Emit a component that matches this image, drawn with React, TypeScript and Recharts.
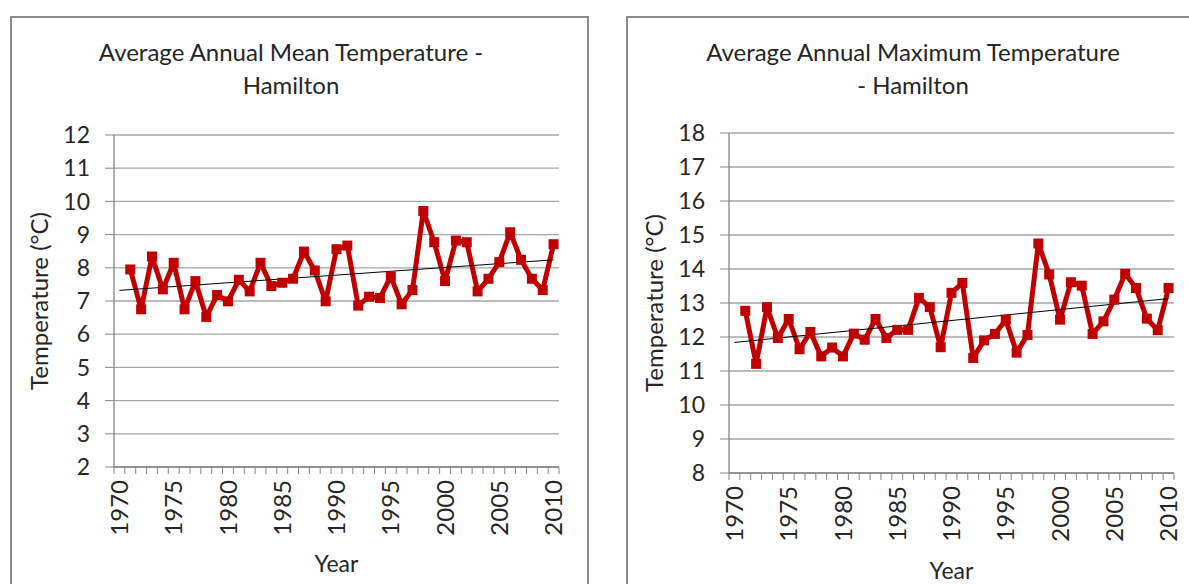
import React from 'react';
import { LineChart, Line, XAxis, YAxis, CartesianGrid, ReferenceLine, Label } from 'recharts';

const years = [
  1970, 1971, 1972, 1973, 1974, 1975, 1976, 1977, 1978, 1979,
  1980, 1981, 1982, 1983, 1984, 1985, 1986, 1987, 1988, 1989,
  1990, 1991, 1992, 1993, 1994, 1995, 1996, 1997, 1998, 1999,
  2000, 2001, 2002, 2003, 2004, 2005, 2006, 2007, 2008, 2009, 2010,
];

// 1970 has no reading
const meanTemp = [
  null,
  7.95, 6.75, 8.34, 7.35, 8.15, 6.75, 7.6, 6.52, 7.18, 6.99,
  7.64, 7.29, 8.15, 7.45, 7.55, 7.67, 8.49, 7.92, 6.99, 8.56,
  8.67, 6.86, 7.13, 7.09, 7.74, 6.9, 7.33, 9.71, 8.77, 7.6,
  8.82, 8.77, 7.29, 7.67, 8.17, 9.07, 8.24, 7.67, 7.33, 8.71,
];

const maxTemp = [
  null,
  12.77, 11.21, 12.88, 11.97, 12.53, 11.64, 12.15, 11.43, 11.69, 11.43,
  12.1, 11.92, 12.53, 11.97, 12.21, 12.21, 13.15, 12.88, 11.7, 13.3,
  13.59, 11.38, 11.9, 12.09, 12.51, 11.54, 12.06, 14.75, 13.84, 12.51,
  13.61, 13.51, 12.09, 12.46, 13.1, 13.86, 13.44, 12.54, 12.2, 13.44,
];

const meanTicks = [2, 3, 4, 5, 6, 7, 8, 9, 10, 11, 12];
const maxTicks = [8, 9, 10, 11, 12, 13, 14, 15, 16, 17, 18];

// linear trend, value at 1970 and 2010
const meanTrend = [7.32, 8.24];
const maxTrend = [11.84, 13.13];

const FONT = 'Lato, "Open Sans", sans-serif';
const TXT = '#262626';
const PLOT_W = 445;
const HALF = PLOT_W / years.length / 2;

function YearTick(props: any) {
  const { x, y, payload, index } = props;
  const year = payload.value as number;
  const last = index === years.length - 1;
  return (
    <g>
      <line x1={x - HALF} x2={x - HALF} y1={y - 8} y2={y - 1} stroke="#868686" />
      {last && <line x1={x + HALF} x2={x + HALF} y1={y - 8} y2={y - 1} stroke="#868686" />}
      {year % 5 === 0 && (
        <text
          x={x}
          y={y + 5}
          dy="0.36em"
          textAnchor="end"
          transform={`rotate(-90, ${x}, ${y + 5})`}
          fill={TXT}
          fontSize={24}
          fontFamily={FONT}
        >
          {year}
        </text>
      )}
    </g>
  );
}

function Square(props: any) {
  const { cx, cy, index } = props;
  if (cx == null || cy == null) return <g key={index} />;
  return <rect key={index} x={cx - 5} y={cy - 5} width={10} height={10} fill="#c00000" />;
}

interface PanelProps {
  title: string[];
  titleX: number;
  values: (number | null)[];
  ticks: number[];
  trend: number[];
  left: number;
  top: number;
  width: number;
  plotTop: number;
  plotBottom: number;
  yearOffset: number;
}

function Panel({ title, titleX, values, ticks, trend, left, top, width, plotTop, plotBottom, yearOffset }: PanelProps) {
  const data = years.map((year, i) => ({ year, temp: values[i] }));
  const height = 584 - top;
  const yAxisW = 94;
  return (
    <>
      <div
        style={{
          position: 'absolute', left: titleX - 250, top: 35, width: 500, textAlign: 'center',
          fontFamily: FONT, fontSize: 24, lineHeight: '33px', color: TXT,
        }}
      >
        {title.map((t) => <div key={t}>{t}</div>)}
      </div>
      <div style={{ position: 'absolute', left, top }}>
        <LineChart
          width={width}
          height={height}
          data={data}
          margin={{ top: plotTop - top, right: width - yAxisW - PLOT_W, bottom: 0, left: 0 }}
        >
          <CartesianGrid vertical={false} stroke="#a6a6a6" strokeWidth={1.3} />
          <XAxis
            dataKey="year"
            type="category"
            interval={0}
            height={584 - plotBottom}
            padding={{ left: HALF, right: HALF }}
            tickLine={false}
            axisLine={{ stroke: '#868686', strokeWidth: 1.3 }}
            tick={<YearTick />}
          >
            <Label value="Year" position="insideBottom" offset={yearOffset} fill={TXT} fontSize={23} fontFamily={FONT} />
          </XAxis>
          <YAxis
            width={yAxisW}
            domain={[ticks[0], ticks[ticks.length - 1]]}
            ticks={ticks}
            interval={0}
            tickSize={9}
            tickMargin={15}
            tickLine={{ stroke: '#868686' }}
            axisLine={{ stroke: '#868686', strokeWidth: 1.3 }}
            tick={{ fill: TXT, fontSize: 23, fontFamily: FONT }}
          >
            <Label
              content={({ viewBox }: any) => {
                const cx = viewBox.x + 19;
                const cy = viewBox.y + viewBox.height / 2;
                return (
                  <text
                    x={cx}
                    y={cy}
                    dy="0.36em"
                    textAnchor="middle"
                    transform={`rotate(-90, ${cx}, ${cy})`}
                    fill={TXT}
                    fontSize={24}
                    fontFamily={FONT}
                  >
                    Temperature (°C)
                  </text>
                );
              }}
            />
          </YAxis>
          <Line
            type="linear"
            dataKey="temp"
            stroke="#c00000"
            strokeWidth={5}
            strokeLinejoin="round"
            dot={<Square />}
            activeDot={false}
            isAnimationActive={false}
          />
          <ReferenceLine
            segment={[{ x: years[0], y: trend[0] }, { x: years[years.length - 1], y: trend[1] }]}
            stroke="#000"
            strokeWidth={1}
            ifOverflow="visible"
          />
        </LineChart>
      </div>
    </>
  );
}

export default function App() {
  return (
    <div
      style={{
        position: 'absolute', left: 0, top: 0, width: 1189, height: 584,
        overflow: 'hidden', background: '#fff',
      }}
    >
      <div style={{ position: 'absolute', left: 10, top: 16, width: 575, height: 600, border: '2px solid #8c8c8c' }} />
      <div style={{ position: 'absolute', left: 626, top: 16, width: 600, height: 600, border: '2px solid #8c8c8c' }} />
      <Panel
        title={['Average Annual Mean Temperature -', 'Hamilton']}
        titleX={291}
        values={meanTemp}
        ticks={meanTicks}
        trend={meanTrend}
        left={20}
        top={100}
        width={570}
        plotTop={135}
        plotBottom={467}
        yearOffset={12}
      />
      <Panel
        title={['Average Annual Maximum Temperature', '- Hamilton']}
        titleX={913}
        values={maxTemp}
        ticks={maxTicks}
        trend={maxTrend}
        left={635}
        top={98}
        width={554}
        plotTop={133}
        plotBottom={473}
        yearOffset={5}
      />
    </div>
  );
}
